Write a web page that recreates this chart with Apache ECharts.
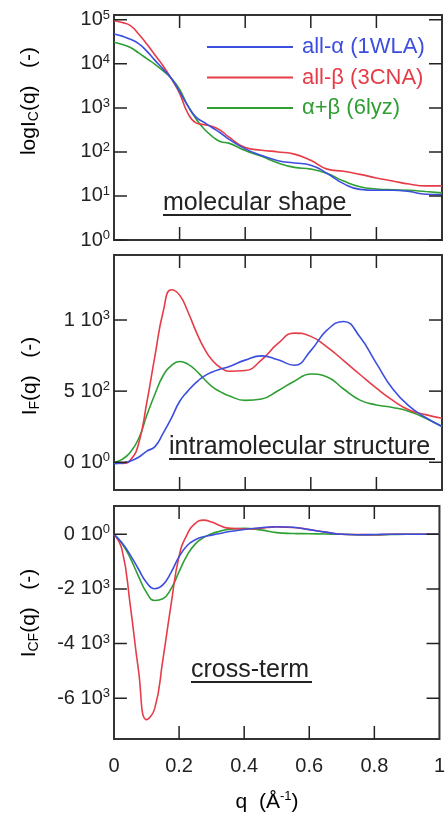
<!DOCTYPE html>
<html>
<head>
<meta charset="UTF-8">
<title>I(q) decomposition</title>
<script src="https://cdn.jsdelivr.net/npm/echarts@6/dist/echarts.min.js"></script>
<style>
html, body { margin: 0; padding: 0; background: #fff; }
#container { width: 448px; height: 814px; }
</style>
</head>
<body>
<div id="container"></div>
<script>
// q grid shared by all curves (Å^-1)
var q = [0, 0.025, 0.05, 0.075, 0.1, 0.125, 0.15, 0.175, 0.2, 0.225, 0.25, 0.275, 0.3, 0.325, 0.35,
	0.4, 0.45, 0.5, 0.55, 0.6, 0.65, 0.7, 0.75, 0.8, 0.85, 0.9, 0.95, 1];

var names = ['all-α (1WLA)', 'all-β (3CNA)', 'α+β (6lyz)'];
var colors = ['#3c4ede', '#e63c48', '#2f9f34'];

// top panel: log10 I_C(q)
var logIC_alpha = [4.68, 4.63, 4.56, 4.46, 4.29, 4.08, 3.88, 3.67, 3.37, 3.05, 2.79, 2.67, 2.55, 2.43, 2.29,
	2.07, 1.92, 1.80, 1.75, 1.70, 1.51, 1.28, 1.15, 1.13, 1.13, 1.10, 1.04, 1.03];
var logIC_beta = [4.98, 4.94, 4.87, 4.68, 4.45, 4.20, 3.95, 3.66, 3.33, 2.88, 2.66, 2.62, 2.58, 2.49, 2.34,
	2.10, 2.04, 2.00, 1.95, 1.81, 1.61, 1.56, 1.49, 1.41, 1.34, 1.27, 1.23, 1.23];
var logIC_ab = [4.49, 4.44, 4.37, 4.25, 4.12, 3.99, 3.84, 3.67, 3.42, 3.05, 2.75, 2.52, 2.35, 2.23, 2.20,
	2.03, 1.90, 1.75, 1.65, 1.61, 1.51, 1.34, 1.21, 1.16, 1.14, 1.13, 1.10, 1.07];

// middle panel: I_F(q)
var IF_alpha = [-10, -5, 8, 35, 78, 110, 205, 310, 427, 500, 560, 605, 635, 655, 672,
	718, 748, 720, 682, 785, 930, 990, 880, 695, 515, 395, 315, 251];
var IF_beta = [-5, -8, 15, 130, 420, 750, 1060, 1213, 1175, 1060, 920, 800, 715, 665, 640,
	645, 720, 835, 908, 885, 810, 715, 617, 521, 435, 367, 335, 310];
var IF_ab = [0, 20, 70, 165, 330, 480, 610, 680, 708, 690, 645, 585, 530, 495, 468,
	435, 445, 503, 570, 620, 600, 515, 437, 403, 385, 357, 310, 251];

// bottom panel: I_CF(q)
var ICF_alpha = [0, -320, -760, -1270, -1760, -1990, -1850, -1400, -820, -410, -200, -90, -30, 30, 90,
	175, 240, 275, 260, 170, 80, 0, -15, -10, 0, 0, 0, 0];
var ICF_beta = [0, -580, -2600, -4950, -6780, -6380, -4600, -2600, -800, 0, 400, 520, 450, 320, 225,
	195, 220, 270, 250, 175, 80, 0, -10, -15, 0, 0, 0, 0];
var ICF_ab = [0, -350, -870, -1530, -2130, -2420, -2360, -2000, -1366, -760, -350, -120, 20, 110, 175,
	215, 160, 60, 30, 20, 10, 0, -20, -25, -10, 0, 0, 0];

// tick values and their labels ([mantissa + "10", exponent])
var ticksLog = [0, 1, 2, 3, 4, 5];
var labelsLog = [['10', '0'], ['10', '1'], ['10', '2'], ['10', '3'], ['10', '4'], ['10', '5']];
var ticksF = [0, 500, 1000];
var labelsF = [['0 10', '0'], ['5 10', '2'], ['1 10', '3']];
var ticksCF = [-6000, -4000, -2000, 0];
var labelsCF = [['-6 10', '3'], ['-4 10', '3'], ['-2 10', '3'], ['0 10', '0']];
var ticksQ = [0.2, 0.4, 0.6, 0.8];

var font = 'Liberation Sans, Arial, sans-serif';
var ink = '#222';
var tickLen = 13;

var grids = [
	{left: 114, top: 15, width: 328, height: 225},
	{left: 114, top: 255, width: 328, height: 235},
	{left: 114, top: 506, width: 328, height: 233}
];
var yRanges = [[0, 5.11], [-195, 1457], [-7490, 1035]];
var yTicks = [ticksLog, ticksF, ticksCF];
var yLabels = [labelsLog, labelsF, labelsCF];

var richLab = {
	b: {fontSize: 20, fontFamily: font, color: ink, lineHeight: 22},
	s: {fontSize: 13, fontFamily: font, color: ink, lineHeight: 13, verticalAlign: 'top'}
};

function gridDef(g) {
	return {left: g.left, top: g.top, width: g.width, height: g.height, show: true,
		borderColor: '#333', borderWidth: 2, backgroundColor: 'transparent'};
}

function xAxisDef(i) {
	return {
		gridIndex: i, type: 'value', position: 'bottom', min: 0, max: 1, interval: 0.2,
		axisLine: {show: false, onZero: false}, splitLine: {show: false}, axisTick: {show: false},
		axisLabel: {show: i === 2, margin: 17, fontSize: 20, fontFamily: font, color: ink}
	};
}

function yAxisDef(i) {
	var ticks = yTicks[i], labs = yLabels[i];
	return {
		gridIndex: i, type: 'value', position: 'left', min: yRanges[i][0], max: yRanges[i][1],
		axisLine: {show: false, onZero: false}, splitLine: {show: false}, axisTick: {show: false},
		axisLabel: {
			margin: 4, customValues: ticks, rich: richLab,
			formatter: function (v) {
				var k = ticks.indexOf(v);
				if (k < 0) return '';
				return '{b|' + labs[k][0] + '}{s|' + labs[k][1] + '}';
			}
		}
	};
}

function lineSeries(k, panel, ys) {
	return {
		type: 'line', name: names[k], xAxisIndex: panel, yAxisIndex: panel,
		data: q.map(function (x, j) { return [x, ys[j]]; }),
		symbol: 'none', showSymbol: false, smooth: 0.5,
		lineStyle: {color: colors[k], width: 1.6}, itemStyle: {color: colors[k]},
		z: 3 - k
	};
}

// one short segment, in the panel's data units
function tickLine(i, x1, y1, x2, y2) {
	return {
		type: 'line', xAxisIndex: i, yAxisIndex: i, data: [[x1, y1], [x2, y2]],
		symbol: 'none', showSymbol: false, silent: true, clip: false, z: 10,
		lineStyle: {color: ink, width: 1.5}, tooltip: {show: false}
	};
}

var panels = [
	[logIC_alpha, logIC_beta, logIC_ab],
	[IF_alpha, IF_beta, IF_ab],
	[ICF_alpha, ICF_beta, ICF_ab]
];

var series = [];
panels.forEach(function (p, i) {
	p.forEach(function (ys, k) { series.push(lineSeries(k, i, ys)); });
});

// inward ticks on all four sides of each panel
grids.forEach(function (g, i) {
	var yr = yRanges[i];
	var dy = tickLen * (yr[1] - yr[0]) / g.height;
	var dx = tickLen / g.width;
	ticksQ.forEach(function (t) {
		series.push(tickLine(i, t, yr[0], t, yr[0] + dy));
		series.push(tickLine(i, t, yr[1], t, yr[1] - dy));
	});
	yTicks[i].forEach(function (t) {
		series.push(tickLine(i, 0, t, dx, t));
		series.push(tickLine(i, 1, t, 1 - dx, t));
	});
});

var titleRich = {
	a: {fontSize: 21, fontFamily: font, color: ink, lineHeight: 24},
	c: {fontSize: 14, fontFamily: font, color: ink, lineHeight: 14, verticalAlign: 'bottom'},
	s: {fontSize: 13, fontFamily: font, color: ink, lineHeight: 13, verticalAlign: 'top'}
};

function yTitle(x, y, text) {
	return {type: 'text', x: x, y: y, rotation: Math.PI / 2,
		style: {text: text, rich: titleRich, align: 'center', verticalAlign: 'middle'}};
}

function note(x, y, text, x2, uy) {
	return [
		{type: 'text', x: x, y: y,
			style: {text: text, font: '25px ' + font, fill: ink, align: 'left', verticalAlign: 'middle'}},
		{type: 'line', shape: {x1: x, y1: uy, x2: x2, y2: uy}, style: {stroke: ink, lineWidth: 2}}
	];
}

var graphics = [
	yTitle(29, 101, '{a|logI}{c|C}{a|(q)   (-)}'),
	yTitle(30, 376, '{a|I}{c|F}{a|(q)   (-)}'),
	yTitle(29, 613, '{a|I}{c|CF}{a|(q)   (-)}'),
	{type: 'text', x: 267, y: 802,
		style: {text: '{a|q  (Å}{s|-1}{a|)}', rich: titleRich, align: 'center', verticalAlign: 'middle'}}
].concat(
	note(163, 203, 'molecular shape', 351, 215),
	note(169, 447, 'intramolecular structure', 435, 459),
	note(191, 670, 'cross-term', 312, 682)
);

var dom = document.getElementById('container');
var myChart = echarts.init(dom);
var option = {
	animation: false,
	backgroundColor: '#fff',
	grid: grids.map(gridDef),
	xAxis: [0, 1, 2].map(xAxisDef),
	yAxis: [0, 1, 2].map(yAxisDef),
	legend: {
		orient: 'vertical', left: 202, top: 31, itemWidth: 86, itemHeight: 2, itemGap: 8.5,
		icon: 'rect',
		textStyle: {fontSize: 22, fontFamily: font, padding: [0, 0, 0, 4]},
		data: names.map(function (n, k) { return {name: n, textStyle: {color: colors[k]}}; })
	},
	graphic: graphics,
	series: series
};
myChart.setOption(option);
</script>
</body>
</html>
